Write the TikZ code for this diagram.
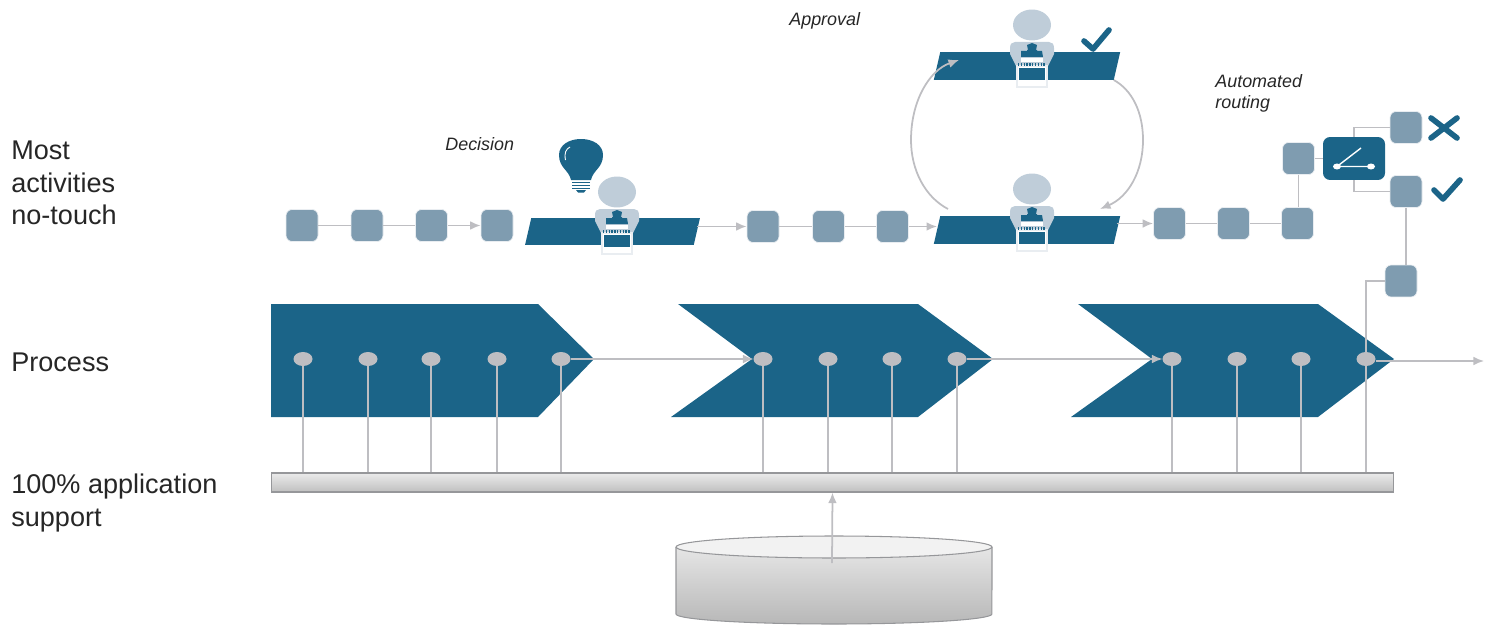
\documentclass[tikz,border=0pt]{standalone}
\usepackage{fontspec}
\setmainfont{Liberation Sans}
\usetikzlibrary{arrows.meta,shapes.geometric}

\definecolor{deskblue}{HTML}{1B6488}
\definecolor{stepblue}{HTML}{7F9CB0}
\definecolor{clerkgrey}{HTML}{BFCDD9}
\definecolor{framegrey}{HTML}{E9EDF1}
\definecolor{wiregrey}{HTML}{BEBEC2}
\definecolor{railedge}{HTML}{96979A}

\tikzset{
	wire/.style={wiregrey, line width=1pt},
	flow/.style={wire, -{Latex[length=6pt, width=5pt]}},
	stepbox/.style={fill=stepblue, draw=framegrey, line width=0.4pt, rounded corners=3.5pt, minimum size=0.64cm, inner sep=0},
	desk/.style={trapezium, fill=deskblue, text=deskblue, trapezium left angle=77, trapezium right angle=103, inner sep=0, outer sep=0},
	pindot/.style={ellipse, fill=wiregrey, minimum width=0.38cm, minimum height=0.28cm, inner sep=0, outer sep=0},
	sidelabel/.style={anchor=west, align=left, inner sep=0, text=black!85, font=\fontsize{15.4}{18.4}\selectfont},
	notelabel/.style={anchor=west, align=left, inner sep=0, text=black!85, font=\fontsize{10.2}{11.9}\selectfont\itshape},
	tickmark/.style={deskblue, line width=3.2pt, line cap=round, line join=round},
	clerk/.pic={
		\fill [clerkgrey] (0,0) ellipse [x radius=0.38cm, y radius=0.31cm];
		\fill [clerkgrey] (-22,23) .. controls (-22,19) and (-20,17) .. (-17,17) -- (17,17) .. controls (20,17) and (22,19) .. (22,23) -- (22,29) -- (15,43) -- (-15,43) -- (-22,29) -- cycle;
		\fill [deskblue] (0,18) -- (5,20) -- (4,25) -- (-4,25) -- (-5,20) -- cycle;
		\fill [deskblue] (-11,26) -- (-5,26) -- (-5,25) -- (5,25) -- (5,26) -- (10,26) -- (11,32) -- (-11,32) -- cycle;
		\fill [white] (-11,33) rectangle (11,37);
		\fill [white] (-15,41) rectangle (15,62);
		\draw [framegrey, line width=0.8pt] (-15,41) rectangle (15,62);
		\fill [deskblue] (-13,43) rectangle (13,55);
		\draw [deskblue, line width=1.6pt, dash pattern=on 0.8pt off 0.8pt] (-14,39.5) -- (14,39.5);
	}
}

\begin{document}
\begin{tikzpicture}[x=0.02cm, y=-0.02cm]
	\useasboundingbox (0,0) rectangle (1494,625);

	\node [sidelabel] (activitylabel) at (11,183) {Most\\activities\\no-touch};
	\node [sidelabel] (processlabel) at (11,362) {Process};
	\node [sidelabel] (supportlabel) at (11,503) {100\% application\\support};
	\node [notelabel] (decisionlabel) at (445,144) {Decision};
	\node [notelabel] (approvallabel) at (789,21) {Approval};
	\node [notelabel] (routinglabel) at (1215,93) {Automated\\routing};

	% process chevrons
	\fill [deskblue] (271,304) -- (538,304) -- (594,359) -- (538,417) -- (271,417) -- cycle;
	\fill [deskblue] (678,304) -- (918,304) -- (993,359) -- (918,417) -- (671,417) -- (752,359) -- cycle;
	\fill [deskblue] (1078,304) -- (1318,304) -- (1394,359) -- (1318,417) -- (1071,417) -- (1152,359) -- cycle;

	\node [draw=railedge, line width=0.6pt, top color=black!8, bottom color=black!25, minimum width=22.46cm, minimum height=0.38cm, inner sep=0] (rail) at (832.5,482.5) {};

	\node [pindot] (p1) at (303,359) {};
	\node [pindot] (p2) at (368,359) {};
	\node [pindot] (p3) at (431,359) {};
	\node [pindot] (p4) at (497,359) {};
	\node [pindot] (p5) at (561,359) {};
	\node [pindot] (p6) at (763,359) {};
	\node [pindot] (p7) at (828,359) {};
	\node [pindot] (p8) at (892,359) {};
	\node [pindot] (p9) at (957,359) {};
	\node [pindot] (p10) at (1172,359) {};
	\node [pindot] (p11) at (1237,359) {};
	\node [pindot] (p12) at (1301,359) {};
	\node [pindot] (p13) at (1366,359) {};

	\draw [wire] (p1) -- (p1 |- rail.north);
	\draw [wire] (p2) -- (p2 |- rail.north);
	\draw [wire] (p3) -- (p3 |- rail.north);
	\draw [wire] (p4) -- (p4 |- rail.north);
	\draw [wire] (p5) -- (p5 |- rail.north);
	\draw [wire] (p6) -- (p6 |- rail.north);
	\draw [wire] (p7) -- (p7 |- rail.north);
	\draw [wire] (p8) -- (p8 |- rail.north);
	\draw [wire] (p9) -- (p9 |- rail.north);
	\draw [wire] (p10) -- (p10 |- rail.north);
	\draw [wire] (p11) -- (p11 |- rail.north);
	\draw [wire] (p12) -- (p12 |- rail.north);
	\draw [wire] (p13) -- (p13 |- rail.north);

	\coordinate (processend) at (1484,361);
	\draw [flow] (p5) -- (p6);
	\draw [flow] (p9) -- (p10);
	\draw [flow] (p13.east |- processend) -- (processend);

	% top row
	\node [stepbox] (s1) at (302,225.5) {};
	\node [stepbox] (s2) at (367,225.5) {};
	\node [stepbox] (s3) at (431.5,225.5) {};
	\node [stepbox] (s4) at (497,225.5) {};
	\node [desk] (decisiondesk) at (612.5,231.5) {\rule{3.25cm}{0.54cm}};
	\node [stepbox] (s5) at (763,226.5) {};
	\node [stepbox] (s6) at (828.5,226.5) {};
	\node [stepbox] (s7) at (892.5,226.5) {};
	\node [desk] (reviewdesk) at (1027,230) {\rule{3.47cm}{0.56cm}};
	\node [desk] (approvaldesk) at (1027,66) {\rule{3.47cm}{0.56cm}};
	\node [stepbox] (s8) at (1169.5,223.5) {};
	\node [stepbox] (s9) at (1233.5,223.5) {};
	\node [stepbox] (s10) at (1297.5,223.5) {};
	\node [stepbox] (s11) at (1298.5,158.5) {};
	\node [fill=deskblue, rounded corners=4pt, minimum width=1.24cm, minimum height=0.86cm, inner sep=0] (switch) at (1354,158.5) {};
	\node [stepbox] (rejected) at (1406,127.5) {};
	\node [stepbox] (accepted) at (1406,191.5) {};
	\node [stepbox] (s12) at (1401,281) {};

	\draw [wire] (s1) -- (s2);
	\draw [wire] (s2) -- (s3);
	\draw [flow] (s3) -- (s4);
	\draw [flow] (decisiondesk.east |- s5) -- (s5);
	\draw [wire] (s5) -- (s6);
	\draw [wire] (s6) -- (s7);
	\draw [flow] (s7) -- (s7 -| reviewdesk.west);
	\draw [flow] (reviewdesk.east |- s8) -- (s8);
	\draw [wire] (s8) -- (s9);
	\draw [wire] (s9) -- (s10);
	\draw [wire] (s11) -- (s11 |- s10.north);
	\draw [wire] (s11) -- (switch);
	\draw [wire] (switch.north) |- (rejected);
	\draw [wire] (switch.south) |- (accepted);
	\draw [wire] (accepted) -- (accepted |- s12.north);
	\draw [wire] (s12.west) -| (p13);

	% approval loop
	\coordinate (loopout) at (948,209);
	\coordinate (loopin) at (959,60);
	\coordinate (backin) at (1100,209);
	\draw [flow] (loopout) .. controls (925,197) and (911,170) .. (911,140) .. controls (911,100) and (930,70) .. (loopin);
	\draw [flow] (approvaldesk.bottom right corner) .. controls (1132,90) and (1143,112) .. (1143,140) .. controls (1143,172) and (1128,197) .. (backin);

	\pic at (617,192) {clerk};
	\pic at (1032,189) {clerk};
	\pic at (1032,25) {clerk};

	% light bulb
	\fill [deskblue] (571,180) .. controls (569,170) and (559,168) .. (559,155) .. controls (559,145) and (569,139) .. (581,139) .. controls (593,139) and (603,145) .. (603,155) .. controls (603,168) and (593,170) .. (591,180) -- cycle;
	\draw [white, line width=0.5pt] (565.5,160) .. controls (564,153) and (566,149) .. (570,147);
	\draw [deskblue, line width=1.1pt] (572,182.5) -- (590,182.5) (572,185.5) -- (590,185.5) (572,188.5) -- (590,188.5);
	\fill [deskblue] (576,190) -- (586,190) -- (584,192.5) -- (578,192.5) -- cycle;

	% marks
	\draw [tickmark] (1084,41) -- (1093,49) -- (1109,30);
	\draw [tickmark] (1434,190) -- (1443,199) -- (1460,180);
	\draw [tickmark] (1431,118) -- (1457,138) (1457,118) -- (1431,138);

	% switch symbol
	\fill [white] (1337,166.5) ellipse [x radius=0.08cm, y radius=0.06cm];
	\fill [white] (1371,166.5) ellipse [x radius=0.08cm, y radius=0.06cm];
	\draw [white, line width=0.8pt] (1337,166.5) -- (1371,166.5) (1337,166.5) -- (1361,148);

	% data store
	\path [top color=black!10, bottom color=black!28] (676,547) -- (676,614) arc [start angle=180, end angle=360, x radius=3.16cm, y radius=0.2cm] -- (992,547) -- cycle;
	\draw [railedge, line width=0.6pt] (676,547) -- (676,614) arc [start angle=180, end angle=360, x radius=3.16cm, y radius=0.2cm] -- (992,547);
	\draw [railedge, line width=0.6pt, fill=black!5] (834,547) ellipse [x radius=3.16cm, y radius=0.22cm];
	\coordinate (storetop) at (832,563);
	\draw [flow] (storetop) -- (rail.south);
\end{tikzpicture}
\end{document}
